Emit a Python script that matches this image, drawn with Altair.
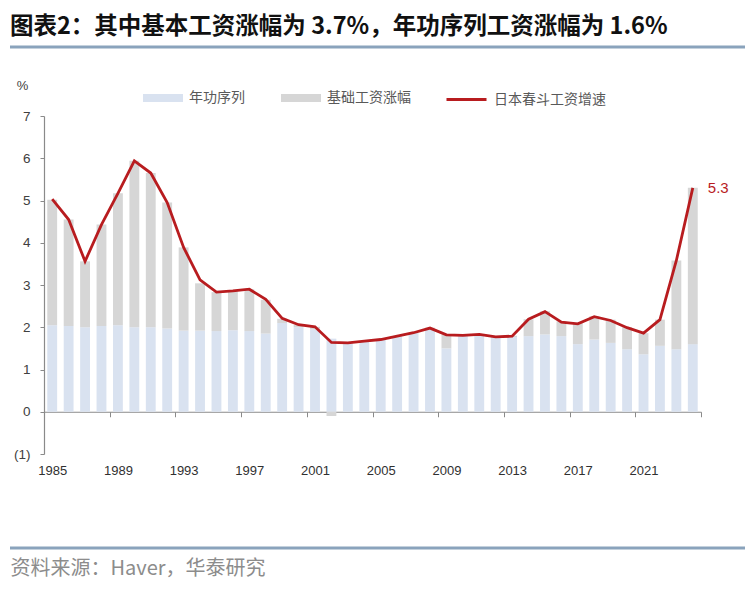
import altair as alt
import pandas as pd

years = list(range(1985, 2025))

# 年功序列 (seniority component), %
seniority = [2.05, 2.03, 2.00, 2.03, 2.05, 2.00, 2.00, 1.97, 1.92, 1.92,
             1.91, 1.93, 1.91, 1.85, 2.10, 2.00, 1.95, 1.73, 1.63, 1.67,
             1.71, 1.79, 1.87, 1.97, 1.50, 1.80, 1.82, 1.75, 1.77, 1.79,
             1.83, 1.79, 1.60, 1.71, 1.63, 1.48, 1.36, 1.56, 1.48, 1.60]

# 基础工资涨幅 (base pay increase), %
base_pay = [2.97, 2.52, 1.56, 2.40, 3.12, 3.94, 3.65, 2.98, 1.97, 1.12,
            0.92, 0.93, 0.99, 0.80, 0.10, 0.06, 0.06, -0.10, 0.00, 0.00,
            0.00, 0.00, 0.00, 0.02, 0.33, 0.02, 0.01, 0.03, 0.03, 0.40,
            0.55, 0.35, 0.51, 0.55, 0.55, 0.52, 0.50, 0.62, 2.10, 3.70]

# 日本春斗工资增速 (Shunto wage growth), %
shunto = [5.03, 4.55, 3.56, 4.43, 5.17, 5.94, 5.65, 4.95, 3.89, 3.12,
          2.83, 2.86, 2.90, 2.66, 2.21, 2.06, 2.01, 1.64, 1.63, 1.67,
          1.71, 1.79, 1.87, 1.98, 1.82, 1.81, 1.83, 1.77, 1.79, 2.19,
          2.37, 2.12, 2.08, 2.25, 2.16, 1.99, 1.86, 2.18, 3.58, 5.30]

series_bar = ["年功序列", "基础工资涨幅"]
series_line = "日本春斗工资增速"
bar_colors = ["#D9E2F0", "#D6D6D6"]
line_color = "#B81C1F"

tick_years = [1984.5 + 4 * k for k in range(11)]
label_years = [1985 + 4 * k for k in range(10)]

title_text = "图表2：其中基本工资涨幅为 3.7%，年功序列工资涨幅为 1.6%"
source_text = "资料来源：Haver，华泰研究"

# stacked segments (positive parts stack upward, negative parts hang below zero)
rows = []
for yr, s, b in zip(years, seniority, base_pay):
    rows.append({"year": yr, "series": series_bar[0], "lo": 0.0, "hi": s})
    if b >= 0:
        rows.append({"year": yr, "series": series_bar[1], "lo": s, "hi": s + b})
    else:
        rows.append({"year": yr, "series": series_bar[1], "lo": b, "hi": 0.0})
bars_df = pd.DataFrame(rows)
line_df = pd.DataFrame({"year": years, "series": series_line, "value": shunto})

W, H = 657, 338
xscale = alt.Scale(domain=[1984.5, 2024.5], nice=False, zero=False)
yscale = alt.Scale(domain=[-1, 7], nice=False, zero=False)
axis_grey = "#8A8A8A"
cjk = "Noto Sans CJK SC"

y_axis = alt.Axis(values=list(range(-1, 8)),
                  labelExpr="datum.value < 0 ? '(' + abs(datum.value) + ')' : datum.value",
                  grid=False, tickSize=4, labelPadding=10,
                  domainColor=axis_grey, tickColor=axis_grey, domainWidth=1.2,
                  labelColor="#404040", labelFont="Liberation Sans", labelFontSize=13.5,
                  title="%", titleAngle=0, titleX=-22, titleY=-31,
                  titleAlign="center", titleBaseline="middle",
                  titleFont="Liberation Sans", titleFontSize=13,
                  titleFontWeight="normal", titleColor="#404040")

tick_axis = alt.Axis(orient="bottom", values=tick_years, labels=False,
                     ticks=True, tickSize=5, offset=-H / 8, grid=False,
                     title=None, domainColor=axis_grey, tickColor=axis_grey,
                     domainWidth=1.2)

label_axis = alt.Axis(orient="bottom", values=label_years, ticks=False,
                      domain=False, grid=False, labelPadding=10, format="d",
                      labelFont="Liberation Sans", labelFontSize=13,
                      labelColor="#303030", labelFlush=False,
                      title=source_text, titleX=-34, titleY=114,
                      titleAlign="left", titleBaseline="middle",
                      titleFont=cjk, titleFontSize=20, titleFontWeight="normal",
                      titleColor="#8C8C8C")

bars = alt.Chart(bars_df).transform_calculate(
    x1="datum.year - 0.3", x2="datum.year + 0.3"
).mark_bar().encode(
    x=alt.X("x1:Q", scale=xscale, axis=tick_axis),
    x2="x2:Q",
    y=alt.Y("hi:Q", scale=yscale, axis=y_axis),
    y2="lo:Q",
    fill=alt.Fill("series:N",
                  scale=alt.Scale(domain=series_bar, range=bar_colors),
                  legend=alt.Legend(orient="none", legendX=99, legendY=-38,
                                    direction="horizontal", title=None,
                                    symbolType="M-1,-0.2L1,-0.2L1,0.2L-1,0.2Z",
                                    symbolSize=1600, symbolStrokeWidth=0,
                                    labelFont=cjk, labelFontSize=14, labelColor="#595959",
                                    columnPadding=36, labelOffset=6)),
)

line = alt.Chart(line_df).mark_line(strokeWidth=2.8).encode(
    x=alt.X("year:Q", scale=xscale, axis=label_axis),
    y=alt.Y("value:Q", scale=yscale, axis=y_axis),
    stroke=alt.Stroke("series:N",
                      scale=alt.Scale(domain=[series_line], range=[line_color]),
                      legend=alt.Legend(orient="none", legendX=401, legendY=-38,
                                        direction="horizontal", title=None,
                                        symbolType="M-1,0L1,0", symbolSize=1600,
                                        symbolStrokeWidth=3,
                                        labelFont=cjk, labelFontSize=14,
                                        labelColor="#595959", labelOffset=6)),
)

label = alt.Chart(line_df).transform_filter(
    "datum.year == 2024"
).mark_text(align="left", baseline="middle", dx=15, fontSize=15,
            font="Liberation Sans", color=line_color).encode(
    x=alt.X("year:Q", scale=xscale, axis=None),
    y=alt.Y("value:Q", scale=yscale, axis=y_axis),
    text=alt.Text("value:Q", format=".1f"),
)

deco = alt.Data(values=[{}])
top_rule = alt.Chart(deco).mark_rule(color="#8AA3BC", strokeWidth=3).encode(
    x=alt.value(-34), x2=alt.value(701), y=alt.value(-69))
bottom_rule = alt.Chart(deco).mark_rule(color="#8AA3BC", strokeWidth=3).encode(
    x=alt.value(-34), x2=alt.value(701), y=alt.value(432))

chart = alt.layer(bars, line, label, top_rule, bottom_rule).resolve_axis(
    x="independent"
).properties(
    width=W, height=H,
    autosize=alt.AutoSizeParams(type="none"),
    padding={"left": 44, "top": 116, "right": 51, "bottom": 146},
    title=alt.TitleParams(title_text, anchor="start", frame="group", dx=-34, dy=-3,
                          font=cjk, fontSize=23.5, fontWeight="bold", color="#111111"),
).configure_view(stroke=None)

chart.save("out.html", embed_options={"renderer": "svg", "actions": False})
